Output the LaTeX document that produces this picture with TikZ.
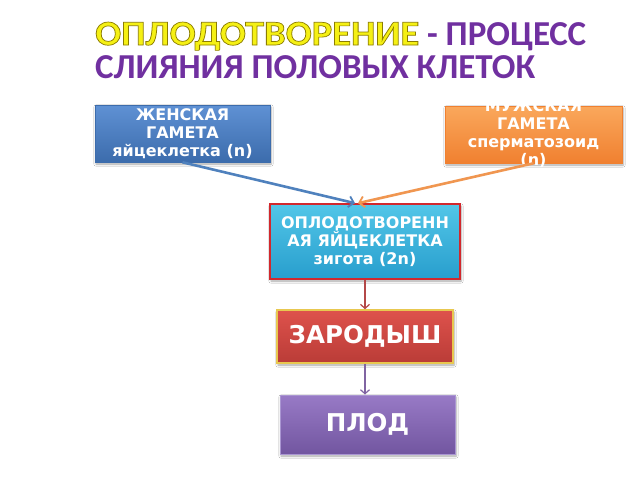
\documentclass[tikz,border=0pt]{standalone}
\usepackage{fontspec}
\setmainfont{DejaVu Sans}
\newfontfamily\titlefont{Carlito}
\usetikzlibrary{arrows.meta,shadows.blur}
\definecolor{ttlyellow}{RGB}{245,240,20}
\definecolor{ttlpurple}{RGB}{112,48,160}
\definecolor{bluetop}{RGB}{95,145,212}
\definecolor{bluebot}{RGB}{60,108,172}
\definecolor{blueline}{RGB}{79,129,189}
\definecolor{orangetop}{RGB}{250,168,92}
\definecolor{orangebot}{RGB}{240,128,48}
\definecolor{orangeline}{RGB}{240,150,80}
\definecolor{cyantop}{RGB}{82,198,232}
\definecolor{cyanbot}{RGB}{40,158,205}
\definecolor{cyanframe}{RGB}{210,40,45}
\definecolor{redtop}{RGB}{222,82,76}
\definecolor{redbot}{RGB}{186,60,55}
\definecolor{redframe}{RGB}{232,200,80}
\definecolor{redline}{RGB}{180,72,72}
\definecolor{purtop}{RGB}{152,122,198}
\definecolor{purbot}{RGB}{114,86,160}
\definecolor{purframe}{RGB}{170,150,210}
\definecolor{purline}{RGB}{128,100,162}
\newcommand{\outlinedtext}[1]{{\color{ttlyellow}\special{pdf:literal direct 0.55 0.49 0 RG 0.7 w 2 Tr}#1\special{pdf:literal direct 0 Tr}}}
\begin{document}
\begin{tikzpicture}[x=1pt,y=-1pt,
  box/.style={rectangle, inner sep=0pt, align=center, text=white,
    font=\fontsize{16}{18}\selectfont\bfseries,
    blur shadow={shadow xshift=1pt,shadow yshift=-2pt,shadow blur steps=6,shadow opacity=35}},
  bigbox/.style={box, font=\fontsize{24.5}{28}\selectfont\bfseries},
  thick arrow/.style={line width=2.6pt, -{Straight Barb[length=5pt,width=11pt,line width=1.8pt]}},
  thin arrow/.style={line width=1.4pt, -{Straight Barb[length=4pt,width=9pt,line width=1.2pt]}},
  ttl/.style={anchor=base west, inner sep=0pt, font=\titlefont\fontsize{35}{35}\selectfont\bfseries}
]
\useasboundingbox (0,0) rectangle (640,480);
\fill[white] (0,0) rectangle (640,480);

% title
\node[ttl] (t1) at (95,45) {\scalebox{1.1}[1]{\outlinedtext{ОПЛОДОТВОРЕНИЕ}}\textcolor{ttlpurple}{\ - ПРОЦЕСС}};
\node[ttl, text=ttlpurple] (t2) at (95,78) {СЛИЯНИЯ ПОЛОВЫХ КЛЕТОК};

% boxes
\node[box, minimum width=175pt, minimum height=57pt, top color=bluetop, bottom color=bluebot, draw=bluebot, line width=0.6pt]
  (fem) at (182.5,133.5) {ЖЕНСКАЯ\\ГАМЕТА\\яйцеклетка (n)};
\node[box, minimum width=177pt, minimum height=57pt, top color=orangetop, bottom color=orangebot, draw=orangebot, line width=0.6pt]
  (mal) at (533.5,134.5) {\raisebox{-10pt}{\smash{\begin{tabular}{@{}c@{}}МУЖСКАЯ\\ГАМЕТА\\сперматозоид\\(n)\end{tabular}}}};
\node[box, minimum width=190pt, minimum height=75pt, top color=cyantop, bottom color=cyanbot, draw=cyanframe, line width=1.6pt]
  (zyg) at (365,241.5) {ОПЛОДОТВОРЕНН\\АЯ ЯЙЦЕКЛЕТКА\\зигота (2n)};
\node[bigbox, minimum width=176pt, minimum height=53pt, top color=redtop, bottom color=redbot, draw=redframe, line width=1.6pt]
  (emb) at (365,336.5) {ЗАРОДЫШ};
\node[bigbox, minimum width=175pt, minimum height=59pt, top color=purtop, bottom color=purbot, draw=purframe, line width=1pt]
  (frt) at (367.5,424.5) {ПЛОД};

% connectors
\draw[thick arrow, blueline] (fem.south) -- ([xshift=-10pt]zyg.north);
\draw[thick arrow, orangeline] (mal.south) -- ([xshift=-7pt]zyg.north);
\draw[thin arrow, redline] (zyg.south) -- (emb.north);
\draw[thin arrow, purline] (emb.south) -- (emb.south |- frt.north);
\end{tikzpicture}
\end{document}
